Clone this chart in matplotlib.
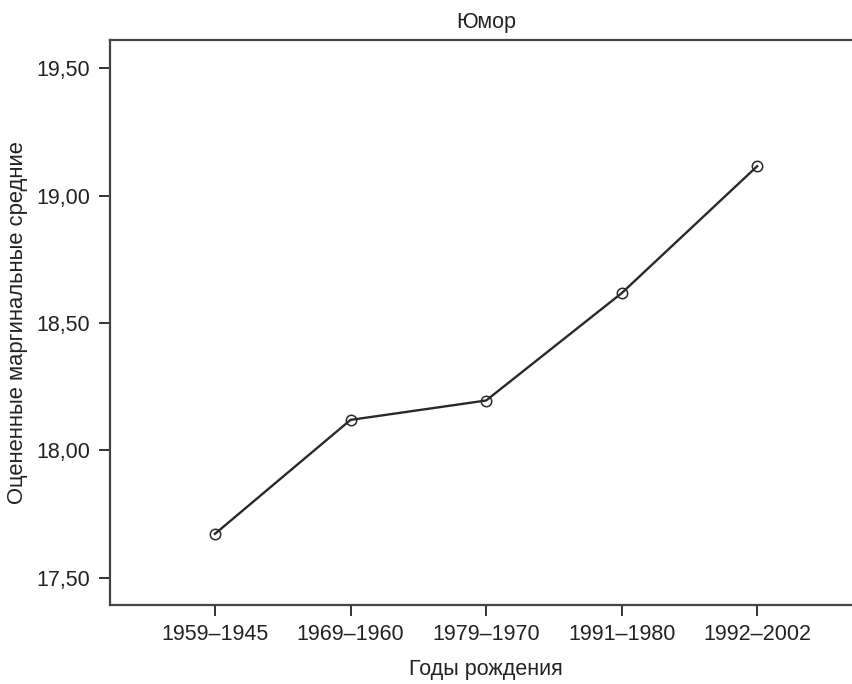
import matplotlib.pyplot as plt

plt.rcParams['font.family'] = ['Liberation Sans', 'DejaVu Sans']

# birth-year groups and estimated marginal means
groups = ['1959–1945', '1969–1960', '1979–1970', '1991–1980', '1992–2002']
means = [17.673, 18.120, 18.196, 18.617, 19.115]
y_ticks = [17.5, 18.0, 18.5, 19.0, 19.5]

fig = plt.figure(figsize=(8.52, 6.84), dpi=100)
ax = fig.add_axes([0.129, 0.1155, 0.883, 0.826])

x = range(len(groups))
ax.plot(x, means, color='#2a2a2a', linewidth=1.7, marker='o', markersize=7.5,
        markerfacecolor='none', markeredgecolor='#2a2a2a', markeredgewidth=1.1)

ax.set_xlim(-0.775, 4.775)
ax.set_ylim(17.394, 19.61)
ax.set_xticks(list(x))
ax.set_xticklabels(groups)
ax.set_yticks(y_ticks)
ax.set_yticklabels([f'{v:.2f}'.replace('.', ',') for v in y_ticks])

for side in ['left', 'bottom', 'top']:
    ax.spines[side].set_color('#444444')
    ax.spines[side].set_linewidth(1.6)
ax.spines['right'].set_visible(False)

ax.tick_params(axis='both', labelsize=15.5, length=8, width=1.4, color='#333333',
               labelcolor='#222222', pad=6)

ax.set_title('Юмор', fontsize=15.5, color='#222222', pad=9)
ax.set_xlabel('Годы рождения', fontsize=15.5, color='#222222', labelpad=10)
ax.set_ylabel('Оцененные маргинальные средние', fontsize=15.8, color='#222222', labelpad=6)

fig.savefig('out.png', dpi=100)
